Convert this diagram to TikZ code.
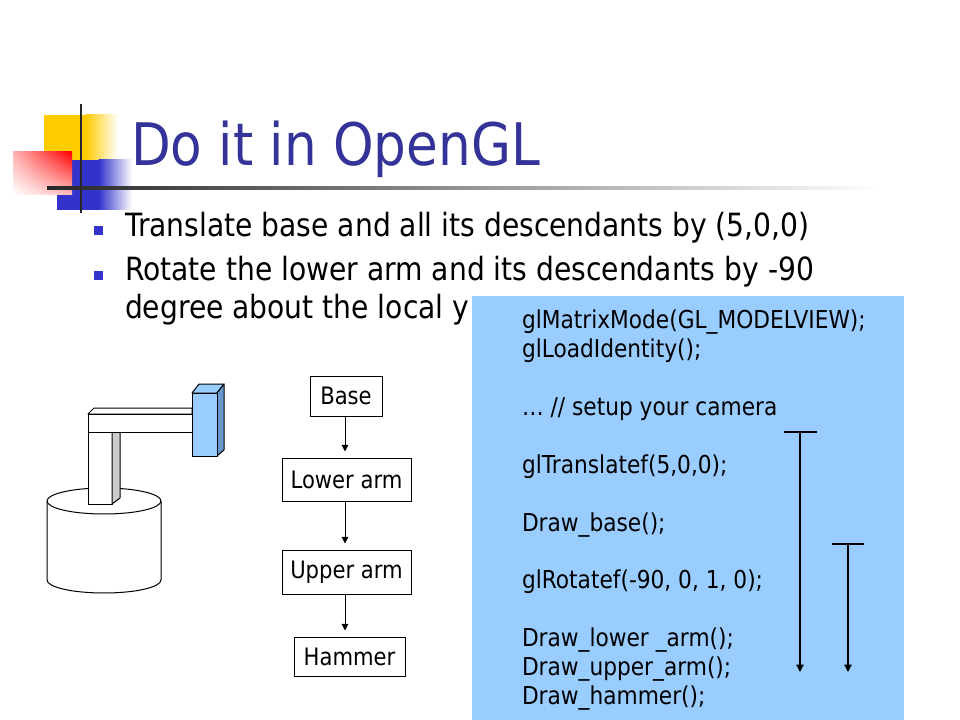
\documentclass[tikz,border=0pt]{standalone}
\usepackage{fontspec}
\setmainfont{DejaVu Sans}[FakeStretch=0.88]
\usetikzlibrary{arrows.meta,shadings}
\definecolor{titleblue}{HTML}{333399}
\definecolor{bulletblue}{HTML}{3333CC}
\definecolor{codebg}{HTML}{99CCFF}
\definecolor{hamfront}{HTML}{99CCFF}
\definecolor{hamside}{HTML}{6699CC}
\definecolor{logoyellow}{HTML}{FFCC00}
\definecolor{logoblue}{HTML}{3333CC}
\definecolor{colgrey}{HTML}{CCCCCC}
\begin{document}
\begin{tikzpicture}[x=0.75pt,y=-0.75pt,
  txt/.style={anchor=base west, inner sep=0pt, outer sep=0pt},
  titletxt/.style={txt, text=titleblue, font=\fontsize{44}{52}\selectfont},
  bodytxt/.style={txt, font=\fontsize{24}{29}\selectfont},
  codetxt/.style={txt, font=\fontsize{18.5}{22}\selectfont},
  bulletsq/.style={fill=bulletblue, minimum size=6.75pt, inner sep=0pt},
  treebox/.style={draw, line width=0.75pt, font=\fontsize{18}{22}\selectfont, inner sep=0pt, fill=white},
  treearr/.style={-{Triangle[width=5pt,length=5pt]}, line width=0.75pt, shorten >=4.5pt},
  codearr/.style={-{Triangle[width=5.5pt,length=5.5pt]}, line width=0.9pt},
  robot/.style={draw=black, line width=0.75pt, line join=round}
]
\useasboundingbox (0,0) rectangle (960,720);
\fill[white] (0,0) rectangle (960,720);

% ---- logo ----
\fill[logoyellow] (44,115) rectangle (86,165);
\shade[left color=logoyellow, right color=white] (85.5,115) rectangle (118,165);
\fill[logoblue] (57,160) rectangle (99,210);
\shade[left color=logoblue, right color=white] (98.5,160) rectangle (132,210);
\shade[upper left=red!30, upper right=red, lower left=white, lower right=red!25] (13,152) rectangle (72,195);
\shade[left color=black!85, right color=white] (47,186.5) rectangle (880,189.5);
\fill[black!85] (79.8,104) rectangle (82.2,213);

% ---- title and bullets ----
\node[titletxt] (title) at (131,166) {Do it in OpenGL};
\node[bulletsq] (b1) at (98,231) {};
\node[bulletsq] (b2) at (98,275.5) {};
\node[bodytxt] (t1) at (125,237) {Translate base and all its descendants by (5,0,0)};
\node[bodytxt] (t2) at (125,281) {Rotate the lower arm and its descendants by -90};
\node[bodytxt] (t3) at (125,319) {degree about the local y};

% ---- code box ----
\fill[codebg] (472,296) rectangle (904,720);
\node[codetxt] (c1) at (522,329) {glMatrixMode(GL\_MODELVIEW);};
\node[codetxt] (c2) at (522,357.85) {glLoadIdentity();};
\node[codetxt] (c3) at (522,415.55) {… // setup your camera};
\node[codetxt] (c4) at (522,473.3) {glTranslatef(5,0,0);};
\node[codetxt] (c5) at (522,531) {Draw\_base();};
\node[codetxt] (c6) at (522,588.7) {glRotatef(-90, 0, 1, 0);};
\node[codetxt] (c7) at (522,646.4) {Draw\_lower \_arm();};
\node[codetxt] (c8) at (522,675.25) {Draw\_upper\_arm();};
\node[codetxt] (c9) at (522,704.1) {Draw\_hammer();};

\coordinate (a1top) at (800,432);
\coordinate (a1end) at (800,672);
\coordinate (a1l) at (784,432);
\coordinate (a1r) at (817,432);
\coordinate (a2top) at (848,544);
\coordinate (a2end) at (848,672);
\coordinate (a2l) at (832,544);
\coordinate (a2r) at (864,544);
\draw[line width=0.9pt] (a1l) -- (a1r);
\draw[codearr] (a1top) -- (a1end);
\draw[line width=0.9pt] (a2l) -- (a2r);
\draw[codearr] (a2top) -- (a2end);

% ---- tree ----
\node[treebox, minimum width=54pt, minimum height=30pt] (base) at (346,396) {Base};
\node[treebox, minimum width=96.75pt, minimum height=32.25pt] (lower) at (346.5,479.5) {Lower arm};
\node[treebox, minimum width=96.75pt, minimum height=33pt] (upper) at (346.5,572) {Upper arm};
\node[treebox, minimum width=83.25pt, minimum height=29.25pt] (hammer) at (349.5,656.5) {Hammer};
\draw[treearr] (base.south -| 345,0) -- (lower.north -| 345,0);
\draw[treearr] (lower.south -| 345,0) -- (upper.north -| 345,0);
\draw[treearr] (upper.south -| 345,0) -- (hammer.north -| 345,0);

% ---- robot ----
\path[robot, fill=white] (47,501) -- (47,580)
  arc[start angle=180, end angle=360, x radius=42.75pt, y radius=9.75pt] -- (161,501);
\path[robot, fill=white] (104,501) ellipse [x radius=42.75pt, y radius=9.75pt];
% column
\path[robot, fill=white] (88,432) rectangle (112,504);
\path[robot, fill=colgrey] (112,432) -- (120,432) -- (120,498) -- (112,504) -- cycle;
% horizontal arm
\path[robot, fill=white] (88,414) -- (94,408) -- (192,408) -- (192,414) -- cycle;
\path[robot, fill=white] (88,414) rectangle (192,432);
% hammer
\path[robot, fill=hamfront] (192,393) -- (199,384) -- (224,384) -- (217,393) -- cycle;
\path[robot, fill=hamside] (217,393) -- (224,384) -- (224,450) -- (217,456) -- cycle;
\path[robot, fill=hamfront] (192,393) rectangle (217,456);
\end{tikzpicture}
\end{document}
